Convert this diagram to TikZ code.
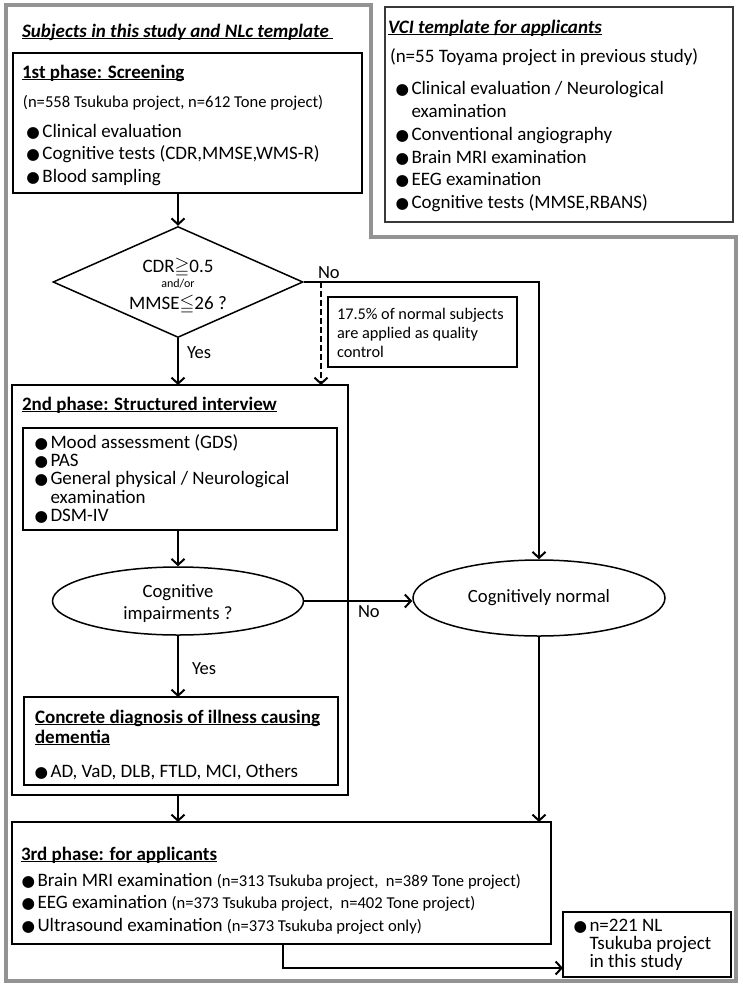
\documentclass[tikz,border=0pt]{standalone}
\usepackage{amssymb}
\usepackage{fontspec}
\setmainfont{Carlito}
\newfontfamily\symf{DejaVu Sans}
\usetikzlibrary{shapes.geometric,arrows.meta}
\newcommand\fsz[1]{\fontsize{#1}{#1}\selectfont}
\newcommand\bul{\makebox[15.5pt][l]{\hspace{-0.5pt}\symf\fsz{15.5}●}}
\newsavebox\ulbox
\newcommand\ulx[1]{\sbox\ulbox{#1}\rlap{\rule[-2.4pt]{\wd\ulbox}{1.1pt}}\usebox\ulbox}
\begin{document}
\begin{tikzpicture}[x=1pt,y=-1pt,
  bx/.style={draw, line width=1.5pt, inner sep=0pt, outer sep=0pt, anchor=north west},
  tx/.style={inner sep=0pt, outer sep=0pt, anchor=base west, font=\fsz{19}},
  ts/.style={inner sep=0pt, outer sep=0pt, anchor=base west, font=\fsz{16.3}},
  tc/.style={inner sep=0pt, outer sep=0pt, anchor=base, font=\fsz{19}},
  conn/.style={line width=2pt, -{Straight Barb[length=6pt,width=13pt,line width=2pt]}},
  frame/.style={draw=gray!85, line width=3.2pt}
]
\useasboundingbox (0,0) rectangle (743,988);
\fill[white] (0,0) rectangle (743,988);
% outer frame
\draw[frame] (6,5) -- (371,5) -- (371,237) -- (736,237) -- (736,981) -- (6,981) -- cycle;

% boxes
\node[bx, minimum width=349pt, minimum height=140pt] (p1) at (13,53) {};
\node[bx, draw=gray!45!black, line width=2.2pt, minimum width=348pt, minimum height=215pt] (vci) at (385,7) {};
\node[diamond, draw, line width=1.5pt, minimum width=250pt, minimum height=111pt, inner sep=0pt] (dia) at (178,282) {};
\node[bx, minimum width=189pt, minimum height=70pt] (qc) at (328,297) {};
\node[bx, minimum width=336pt, minimum height=410pt] (p2) at (12,385) {};
\node[bx, minimum width=314pt, minimum height=102pt] (p2in) at (23,428) {};
\node[ellipse, draw, line width=1.5pt, minimum width=251pt, minimum height=68pt, inner sep=0pt] (imp) at (178,601) {};
\node[ellipse, draw, line width=1.5pt, minimum width=252pt, minimum height=76pt, inner sep=0pt, font=\fsz{18.7}] (norm) at (539,598) {Cognitively normal};
\node[bx, minimum width=314pt, minimum height=88pt] (diag) at (24,697) {};
\node[bx, minimum width=539pt, minimum height=122pt] (p3) at (12,822) {};
\node[bx, minimum width=168pt, minimum height=65pt] (nl) at (563,912) {};

% connectors
\draw[conn] (dia.north |- p1.south) -- (dia.north);
\draw[conn] (dia.south) -- (dia.south |- p2.north);
\draw[conn] (dia.east) -- (dia.east -| norm.north) -- (norm.north);
\coordinate (dq) at (321,282);
\draw[conn, dash pattern=on 6pt off 3pt] (dq) -- (dq |- p2.north);
\draw[conn] (imp.north |- p2in.south) -- (imp.north);
\draw[conn] (imp.south) -- (imp.south |- diag.north);
\draw[conn] (imp.east) -- (imp.east -| norm.west);
\draw[conn] (norm.south) -- (norm.south |- p3.north);
\draw[conn] (imp.south |- p2.south) -- (imp.south |- p3.north);
\coordinate (c3) at (283,968);
\draw[conn] (c3 |- p3.south) -- (c3) -- (c3 -| nl.west);

% left title
\node[tx] (ttl) at (22,37) {\ulx{\bfseries\itshape Subjects in this study and NLc template\ }};
% 1st phase
\node[tx] (p1t) at (22,78) {\ulx{\bfseries 1st phase: Screening}};
\node[ts, font=\fsz{16.6}] (p1n) at (23,107) {(n=558 Tsukuba project, n=612 Tone project)};
\node[tx] (p1a) at (27,137) {\bul Clinical evaluation};
\node[tx] (p1b) at (27,159.5) {\bul Cognitive tests (CDR,MMSE,WMS-R)};
\node[tx] (p1c) at (27,182) {\bul Blood sampling};

% VCI
\node[tx] (vt) at (388,33) {\ulx{\bfseries\itshape VCI template for applicants}};
\node[tx] (vn) at (390,62) {(n=55 Toyama project in previous study)};
\node[tx] (va) at (396,94) {\bul Clinical evaluation / Neurological};
\node[tx] (va2) at (411.5,117) {examination};
\node[tx] (vb) at (396,140) {\bul Conventional angiography};
\node[tx] (vc) at (396,163) {\bul Brain MRI examination};
\node[tx] (vd) at (396,185.5) {\bul EEG examination};
\node[tx] (ve) at (396,208) {\bul Cognitive tests (MMSE,RBANS)};

% diamond texts
\node[tc] (d1) at (178,272) {CDR$\geqq$0.5};
\node[tc, font=\fsz{12}] (d2) at (178,287) {and/or};
\node[tc] (d3) at (178,309) {MMSE$\leqq$26 ?};
\node[tx, font=\fsz{18.5}] (yes1) at (187,358) {Yes};
\node[tx, font=\fsz{18.5}] (no1) at (318,278) {No};

% QC box
\node[ts] (q1) at (337,319) {17.5\% of normal subjects};
\node[ts] (q2) at (337,338) {are applied as quality};
\node[ts] (q3) at (337,357) {control};

% 2nd phase
\node[tx] (p2t) at (22,410) {\ulx{\bfseries 2nd phase: Structured interview}};
\node[tx] (s1) at (35,448) {\bul Mood assessment (GDS)};
\node[tx] (s2) at (35,466) {\bul PAS};
\node[tx] (s3) at (35,484.5) {\bul General physical / Neurological};
\node[tx] (s3b) at (50.5,503) {examination};
\node[tx] (s4) at (35,521) {\bul DSM-IV};
\node[tc, font=\fsz{18.7}] (i1) at (178,597) {Cognitive};
\node[tc, font=\fsz{18.7}] (i2) at (178,619) {impairments ?};
\node[tx, font=\fsz{18.5}] (no2) at (358,617) {No};
\node[tx, font=\fsz{18.5}] (yes2) at (192,674) {Yes};

% diagnosis
\node[tx] (dg1) at (35,723) {\ulx{\bfseries Concrete diagnosis of illness causing}};
\node[tx] (dg2) at (35,743) {\ulx{\bfseries dementia}};
\node[tx] (dg3) at (35,777) {\bul AD, VaD, DLB, FTLD, MCI, Others};

% 3rd phase
\node[tx] (p3t) at (21,860) {\ulx{\bfseries 3rd phase: for applicants}};
\node[tx] (r1) at (22,886) {\bul Brain MRI examination {\fsz{16.6}(n=313 Tsukuba project,\ \ n=389 Tone project)}};
\node[tx] (r2) at (22,908.5) {\bul EEG examination {\fsz{16.6}(n=373 Tsukuba project,\ \ n=402 Tone project)}};
\node[tx] (r3) at (22,931) {\bul Ultrasound examination {\fsz{16.6}(n=373 Tsukuba project only)}};

% NL box
\node[tx] (n1) at (574,931) {\bul n=221 NL};
\node[tx] (n2) at (589.5,949) {Tsukuba project};
\node[tx] (n3) at (589.5,967) {in this study};
\end{tikzpicture}
\end{document}
